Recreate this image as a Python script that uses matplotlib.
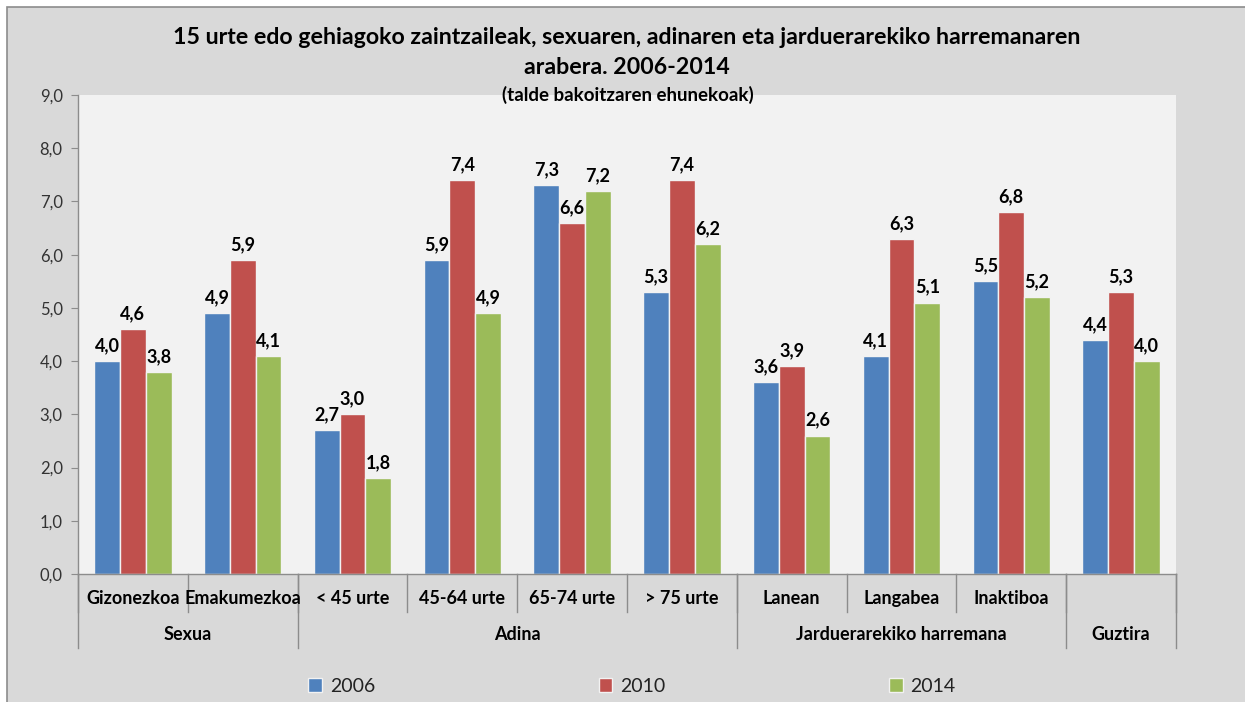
import matplotlib
matplotlib.use("Agg")
import matplotlib.pyplot as plt
import matplotlib.patches as mpatches
import numpy as np

plt.rcParams['font.family'] = ['Lato', 'DejaVu Sans']

# Categories and groups
categories = ["Gizonezkoa", "Emakumezkoa", "< 45 urte", "45-64 urte", "65-74 urte",
              "> 75 urte", "Lanean", "Langabea", "Inaktiboa", ""]
groups = ["Sexua", "Adina", "Jarduerarekiko harremana", "Guztira"]
group_sizes = [2, 4, 3, 1]

years = ["2006", "2010", "2014"]
v2006 = [4.0, 4.9, 2.7, 5.9, 7.3, 5.3, 3.6, 4.1, 5.5, 4.4]
v2010 = [4.6, 5.9, 3.0, 7.4, 6.6, 7.4, 3.9, 6.3, 6.8, 5.3]
v2014 = [3.8, 4.1, 1.8, 4.9, 7.2, 6.2, 2.6, 5.1, 5.2, 4.0]
series = [v2006, v2010, v2014]
colors = ["#4F81BD", "#C0504D", "#9BBB59"]

W, H = 1245, 702
fig = plt.figure(figsize=(W / 100, H / 100), dpi=100, facecolor="white")

# chart area background with border on the visible top/left
fig.patches.append(mpatches.Rectangle((7 / W, -0.05), 1.2, 1 - 7 / H + 0.05,
                                      transform=fig.transFigure, facecolor="#D9D9D9",
                                      edgecolor="#8C8C8C", linewidth=1.2, zorder=-10))

left, right, top, bottom = 78 / W, 1176 / W, 1 - 95 / H, 1 - 574 / H
ax = fig.add_axes([left, bottom, right - left, top - bottom])
ax.set_facecolor("#F2F2F2")

x = np.arange(len(categories))
bw = 0.235
for i, (vals, col, yr) in enumerate(zip(series, colors, years)):
    pos = x + (i - 1) * bw
    bars = ax.bar(pos, vals, width=bw, color=col, edgecolor="#F2F2F2", linewidth=1.0, label=yr)
    for p, v in zip(pos, vals):
        ax.annotate(f"{v:.1f}".replace(".", ","), (p, v), xytext=(0, 5),
                    textcoords="offset points", ha="center", va="bottom",
                    fontsize=13, fontweight="bold", color="black")

ax.set_xlim(-0.5, len(categories) - 0.5)
ax.set_ylim(0, 9)
ax.set_yticks(np.arange(0, 9.1, 1))
ax.set_yticklabels([f"{t:.1f}".replace(".", ",") for t in np.arange(0, 9.1, 1)],
                   fontsize=12, color="#333333")
ax.tick_params(axis="y", length=5, color="#8C8C8C", pad=6)
ax.set_xticks([])
for s in ["top", "right"]:
    ax.spines[s].set_visible(False)
for s in ["left", "bottom"]:
    ax.spines[s].set_color("#8C8C8C")
    ax.spines[s].set_linewidth(1.0)

# category separators and labels below the axis
trans = ax.get_xaxis_transform()
for b in np.arange(len(categories) + 1) - 0.5:
    ax.plot([b, b], [0, -0.0793], transform=trans, color="#8C8C8C", lw=1.0, clip_on=False)
for xi, lab in zip(x, categories):
    ax.text(xi, -0.052, lab, transform=trans, ha="center", va="center",
            fontsize=13, fontweight="bold", color="black")

start = -0.5
bounds = [start]
for n in group_sizes:
    bounds.append(bounds[-1] + n)
for b in bounds:
    ax.plot([b, b], [0, -0.1545], transform=trans, color="#8C8C8C", lw=1.0, clip_on=False)
for g, a, b in zip(groups, bounds[:-1], bounds[1:]):
    ax.text((a + b) / 2, -0.127, g, transform=trans, ha="center", va="center",
            fontsize=13, fontweight="bold", color="black")

fig.text(627 / W, 1 - 38 / H, "15 urte edo gehiagoko zaintzaileak, sexuaren, adinaren eta jarduerarekiko harremanaren",
         ha="center", va="center", fontsize=16.7, fontweight="bold")
fig.text(627 / W, 1 - 68 / H, "arabera. 2006-2014", ha="center", va="center",
         fontsize=16.7, fontweight="bold")
fig.text(628 / W, 1 - 95 / H, "(talde bakoitzaren ehunekoak)", ha="center", va="center",
         fontsize=13.5, fontweight="bold")

leg = ax.legend(ncol=3, loc="center", bbox_to_anchor=(632 / W, 1 - 686 / H),
                bbox_transform=fig.transFigure, frameon=False, fontsize=14,
                handlelength=0.7, handleheight=0.7, handletextpad=0.4, columnspacing=11.5)
for t in leg.get_texts():
    t.set_color("#222222")

fig.savefig("out.png", dpi=100, facecolor=fig.get_facecolor())
